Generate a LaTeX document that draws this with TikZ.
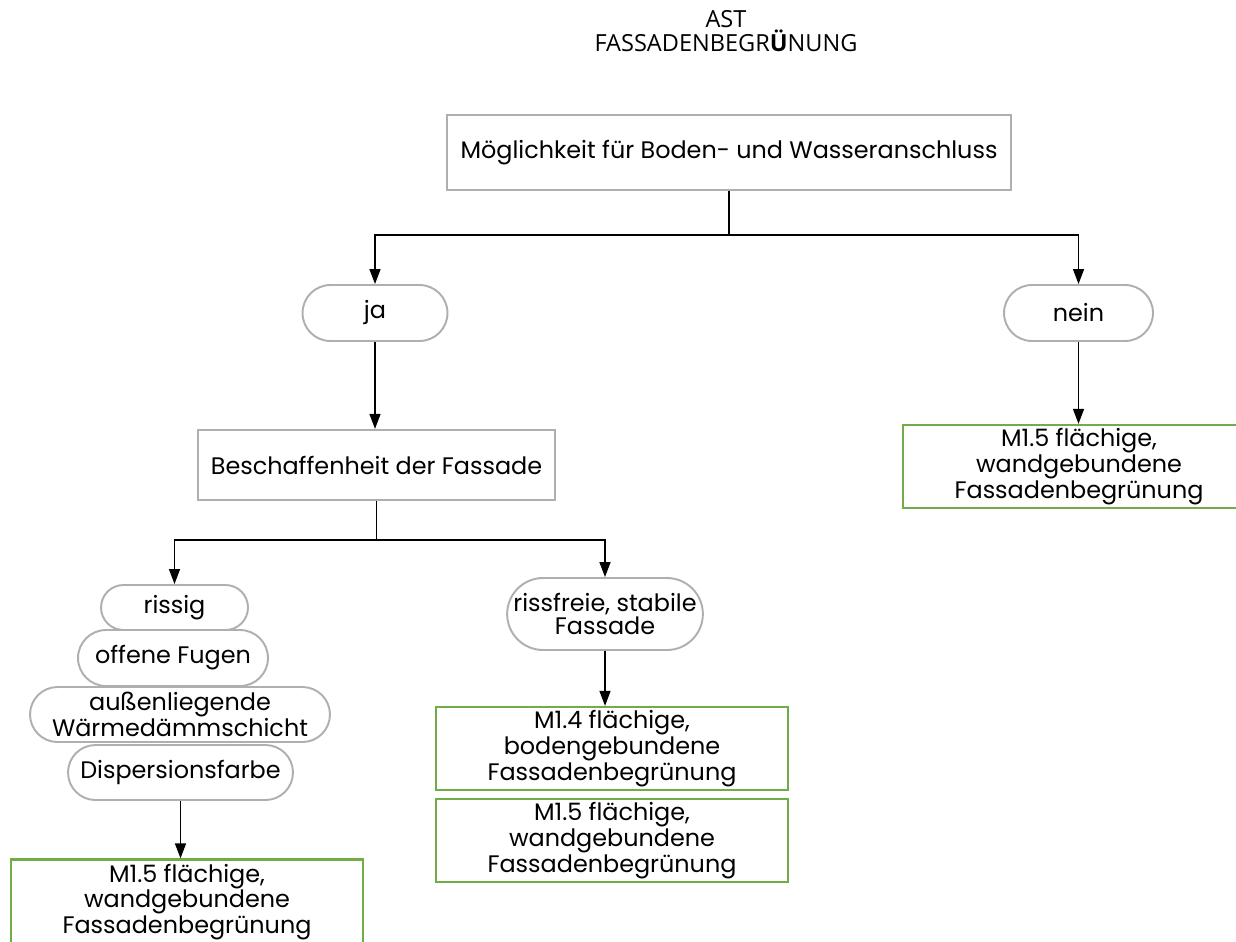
\documentclass[tikz,border=0pt]{standalone}
\usepackage{fontspec}
\setmainfont{Poppins}
\newfontfamily\titlefont{Open Sans}
\usetikzlibrary{arrows.meta,shapes.misc}

\definecolor{boxgray}{HTML}{AFAFAF}
\definecolor{mgreen}{HTML}{70AD47}

\tikzset{
	txt/.style={font=\fontsize{13.6}{12.6}\selectfont, align=center, inner sep=0pt},
	graybox/.style={txt, draw=boxgray, line width=1.3pt, rectangle},
	pill/.style={txt, draw=boxgray, line width=1.1pt, rounded rectangle},
	greenbox/.style={txt, draw=mgreen, line width=1.3pt, rectangle},
	arr/.style={-{Triangle[length=3mm,width=2.2mm]}, line width=0.8pt},
	ln/.style={line width=0.8pt}
}

\begin{document}
\begin{tikzpicture}[x=0.02cm,y=-0.02cm]
	\useasboundingbox (0,0) rectangle (1236,941);

	% title
	\node[font=\titlefont\fontsize{13.4}{13.7}\selectfont, align=center, inner sep=0pt] (title) at (726,31)
		{AST\\FASSADENBEGR\textbf{Ü}NUNG};

	% question
	\node[graybox, minimum width=11.28cm, minimum height=1.5cm] (boden) at (729,152.5)
		{Möglichkeit für Boden- und Wasseranschluss};

	% answers
	\node[pill, minimum width=2.9cm, minimum height=1.12cm] (ja) at (375,313) {ja};
	\node[pill, minimum width=2.98cm, minimum height=1.12cm] (nein) at (1078.5,313) {nein};

	\coordinate (bodenjoin) at (729,235);
	\draw[ln] (boden.south) -- (bodenjoin);
	\draw[arr] (bodenjoin) -| (ja.north);
	\draw[arr] (bodenjoin) -| (nein.north);

	% nein
	\node[greenbox, minimum width=7.04cm, minimum height=1.66cm] (neinM) at (1079,466.5)
		{M1.5 flächige,\\wandgebundene\\Fassadenbegrünung};
	\draw[arr] (nein.south) -- (nein.south |- neinM.north);

	% ja
	\node[graybox, minimum width=7.14cm, minimum height=1.4cm] (fassade) at (376.5,465)
		{Beschaffenheit der Fassade};
	\draw[arr] (ja.south) -- (ja.south |- fassade.north);

	\node[pill, minimum width=2.94cm, minimum height=0.9cm] (rissig) at (174.5,607.5) {rissig};
	\node[pill, minimum width=3.8cm, minimum height=1.12cm] (fugen) at (173,658) {offene Fugen};
	\node[pill, minimum width=6.0cm, minimum height=1.1cm] (daemm) at (180,714.5)
		{außenliegende\\Wärmedämmschicht};
	\node[pill, minimum width=4.5cm, minimum height=1.1cm] (farbe) at (180.5,772.5) {Dispersionsfarbe};

	\node[pill, minimum width=3.8cm, minimum height=1.44cm] (rissfrei) at (605,614)
		{rissfreie, stabile\\Fassade};

	\coordinate (fassadejoin) at (376.5,540);
	\draw[ln] (fassade.south) -- (fassadejoin);
	\draw[arr] (fassadejoin) -| (rissig.north);
	\draw[arr] (fassadejoin) -| (rissfrei.north);

	% results
	\node[greenbox, minimum width=7.04cm, minimum height=1.7cm] (risM) at (187,902)
		{M1.5 flächige,\\wandgebundene\\Fassadenbegrünung};
	\draw[arr] (farbe.south) -- (farbe.south |- risM.north);

	\node[greenbox, minimum width=7.04cm, minimum height=1.66cm] (bodenM) at (612,748.5)
		{M1.4 flächige,\\bodengebundene\\Fassadenbegrünung};
	\node[greenbox, minimum width=7.04cm, minimum height=1.66cm] (wandM) at (612,840.5)
		{M1.5 flächige,\\wandgebundene\\Fassadenbegrünung};
	\draw[arr] (rissfrei.south) -- (rissfrei.south |- bodenM.north);
\end{tikzpicture}
\end{document}
